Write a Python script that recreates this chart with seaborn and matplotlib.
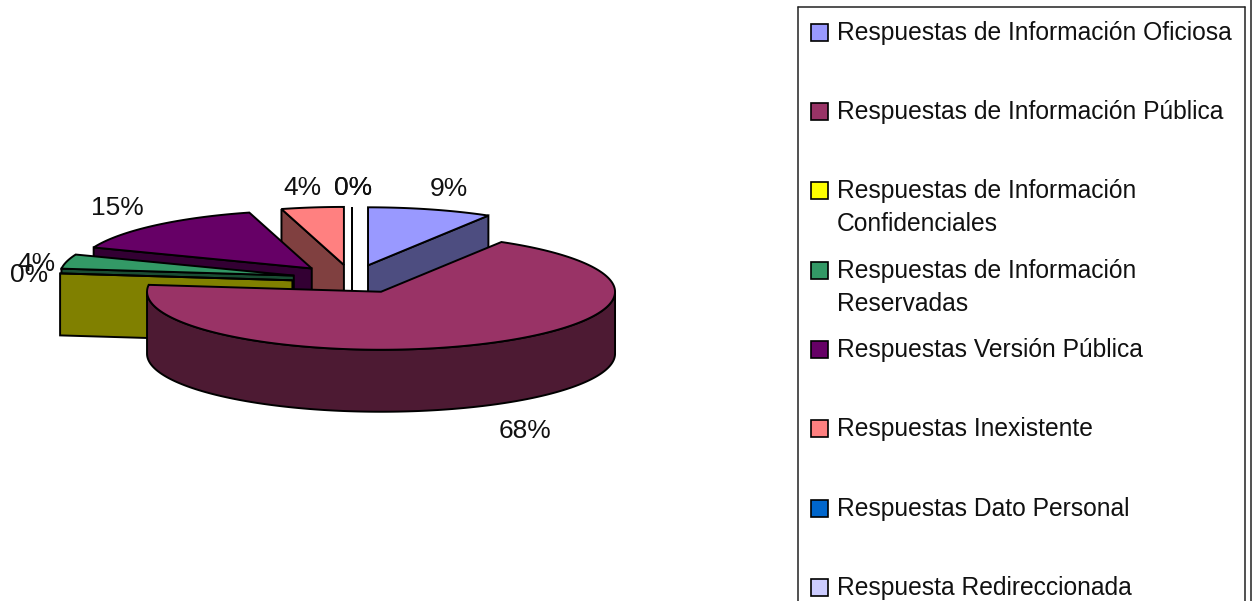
import numpy as np
import matplotlib
matplotlib.use("Agg")
import matplotlib.pyplot as plt
from matplotlib.patches import Rectangle
import seaborn as sns

# --- DATA ---
categorias = [
    "Respuestas de Información Oficiosa",
    "Respuestas de Información Pública",
    "Respuestas de Información\nConfidenciales",
    "Respuestas de Información\nReservadas",
    "Respuestas Versión Pública",
    "Respuestas Inexistente",
    "Respuestas Dato Personal",
    "Respuesta Redireccionada",
]
valores = [8.6, 68.3, 0.0, 4.0, 14.8, 4.3, 0.0, 0.0]
colores = ["#9999FF", "#993366", "#FFFF00", "#339966", "#660066", "#FF8080", "#0066CC", "#CCCCFF"]

# --- STYLE / LAYOUT (pixels of the final picture) ---
sns.set_theme(style="white")
plt.rcParams["font.family"] = ["Liberation Sans", "DejaVu Sans"]

W, H = 1252, 601
CX, CY = 352, 279        # centre of the pie before exploding
RX, RY = 234, 58         # ellipse radii
PROF = 62                # thickness of the pie
EXPL_X, EXPL_Y = 60, 14.2
EXPL_EXTRA = [1, 1.1, 1, 1, 1, 1, 1, 1]
AJUSTE_Y = [0, 0, 3, 0, 0, 0, 0, 0]
ORDEN = [5, 6, 7, 0, 4, 3, 2, 1]   # back to front
LW = 1.4

# label centres for the percentages
pos_etiquetas = [(449, 189), (525, 431), (29, 275), (36, 264), (117, 208), (302, 188), (353, 188), (353, 188)]

fig = plt.figure(figsize=(W / 100, H / 100), dpi=100)
ax = fig.add_axes([0, 0, 1, 1])
ax.set_xlim(0, W)
ax.set_ylim(H, 0)
ax.axis("off")


def oscurecer(color):
    r, g, b = matplotlib.colors.to_rgb(color)
    return (r / 2, g / 2, b / 2)


def borde(apice, ang):
    return apice[0] + RX * np.sin(ang), apice[1] - RY * np.cos(ang)


def cara(xs, ys, color, z):
    ax.fill(xs, ys, facecolor=color, edgecolor="black", linewidth=LW, joinstyle="miter", zorder=z)


fracciones = np.array(valores) / sum(valores) * 2 * np.pi
fin = np.cumsum(fracciones)
ini = fin - fracciones

for z, i in enumerate(ORDEN):
    a0, a1 = ini[i], fin[i]
    medio = (a0 + a1) / 2
    apice = (CX + EXPL_X * EXPL_EXTRA[i] * np.sin(medio), CY - EXPL_Y * np.cos(medio) + AJUSTE_Y[i])
    lado = oscurecer(colores[i])

    # radial walls facing the viewer
    if a0 > np.pi:
        bx, by = borde(apice, a0)
        cara([apice[0], bx, bx, apice[0]], [apice[1], by, by + PROF, apice[1] + PROF], lado, z)
    if a1 < np.pi:
        bx, by = borde(apice, a1)
        cara([apice[0], bx, bx, apice[0]], [apice[1], by, by + PROF, apice[1] + PROF], lado, z)

    # outer wall (front half of the ellipse only)
    f0, f1 = max(a0, np.pi / 2), min(a1, 3 * np.pi / 2)
    if f1 > f0:
        t = np.linspace(f0, f1, 200)
        bx, by = borde(apice, t)
        cara(np.r_[bx, bx[::-1]], np.r_[by, by[::-1] + PROF], lado, z)

    # top face
    t = np.linspace(a0, a1, 300)
    bx, by = borde(apice, t)
    cara(np.r_[apice[0], bx], np.r_[apice[1], by], colores[i], z)

for v, (x, y) in zip(valores, pos_etiquetas):
    ax.text(x, y, f"{round(v)}%", ha="center", va="center", fontsize=19, color="#111111", zorder=50)

# --- LEGEND ---
LEG_X0, LEG_X1, LEG_Y0 = 797.5, 1244.5, 6.5
LEG_PASO = 79.3
ax.plot([LEG_X0, LEG_X0], [H + 5, LEG_Y0], color="#222222", lw=1.1, zorder=60)
ax.plot([LEG_X0, LEG_X1], [LEG_Y0, LEG_Y0], color="#222222", lw=1.1, zorder=60)
ax.plot([LEG_X1, LEG_X1], [LEG_Y0, H + 5], color="#222222", lw=1.1, zorder=60)
ax.plot([1251, 1251], [-5, H + 5], color="#222222", lw=1.1, zorder=60)

for i, (nombre, color) in enumerate(zip(categorias, colores)):
    y = 32.3 + i * LEG_PASO
    ax.add_patch(Rectangle((810.5, y - 8.5), 17, 17, facecolor=color, edgecolor="black", linewidth=1.2, zorder=60))
    primera, *resto = nombre.split("\n")
    ax.text(837, y + 0.5, primera, ha="left", va="center", fontsize=17.7, color="#111111", zorder=60)
    for j, linea in enumerate(resto):
        ax.text(837, y + 0.5 + 33 * (j + 1), linea, ha="left", va="center", fontsize=17.7, color="#111111", zorder=60)

plt.savefig("out.png", dpi=100)
plt.close()
